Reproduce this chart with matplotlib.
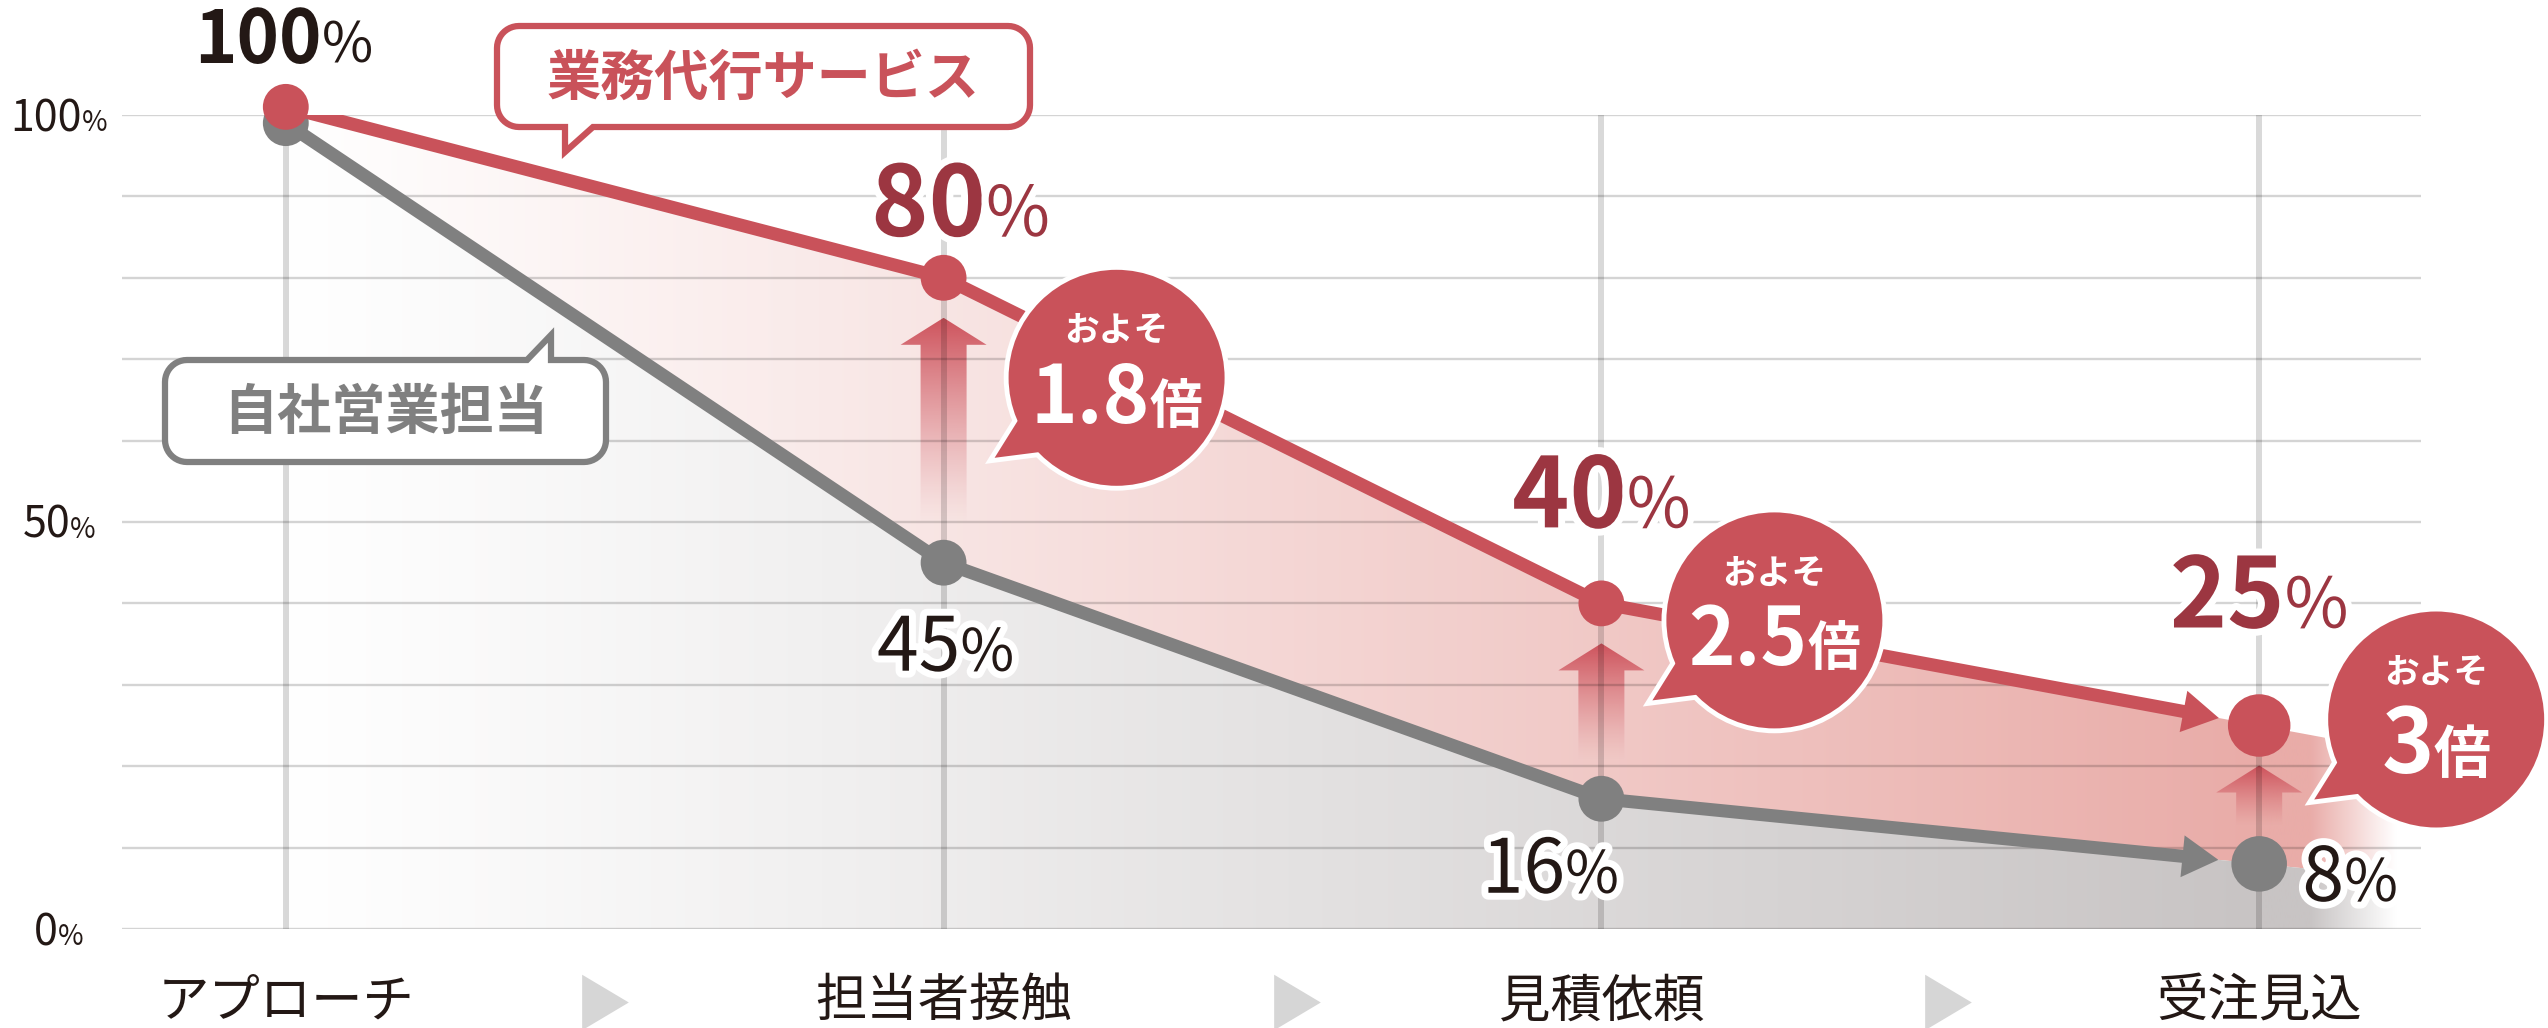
import numpy as np
import matplotlib.pyplot as plt
import matplotlib.transforms as mtransforms
import matplotlib.patheffects as pe
from matplotlib.patches import Polygon, Circle

plt.rcParams['font.family'] = ['Noto Sans CJK JP', 'DejaVu Sans']

# ---- data ----
stages = ['アプローチ', '担当者接触', '見積依頼', '受注見込']
service = [101, 80, 40, 25]        # 業務代行サービス (first dot sits a hair above 100)
inhouse = [99, 45, 16, 8]          # 自社営業担当
service_labels = ['100', '80', '40', '25']
inhouse_labels = ['', '45', '16', '8']
ratio_labels = ['', '1.8', '2.5', '3']
ytick_vals = [0, 50, 100]

# ---- style ----
RED = '#c9525a'
DARK_RED = '#9c3641'
GRAY = '#808080'
INK = '#231815'
PINK_END = (233 / 255, 172 / 255, 168 / 255)
GRAY_END = (200 / 255, 196 / 255, 196 / 255)

W, H = 2548, 1028
ID = mtransforms.IdentityTransform()

fig = plt.figure(figsize=(W / 100, H / 100), dpi=100)
ax = fig.add_axes([122 / W, 1 - 929 / H, (2421 - 122) / W, (929 - 115) / H])
x0, x1 = -0.249, 3.246
ax.set_xlim(x0, x1)
ax.set_ylim(0, 100)
ax.set_autoscale_on(False)
for s in ax.spines.values():
    s.set_visible(False)
ax.set_xticks(range(len(stages)), stages, fontsize=37, color=INK)
ax.set_yticks(np.arange(0, 101, 10))
ax.tick_params(length=0, labelleft=False)
ax.tick_params(axis='x', pad=33)
ax.set_axisbelow(False)
ax.yaxis.grid(True, color='k', alpha=0.17, lw=1.7)
ax.xaxis.grid(True, color='k', alpha=0.15, lw=4.3)

renderer = fig.canvas.get_renderer()
xs = np.arange(len(stages))


def to_px(x, y):
    return ax.transData.transform((x, y))


def to_data(px, py):
    return ax.transData.inverted().transform((px, py))


# ---- gradient area fills ----
slope_s = service[-1] - service[-2]
slope_g = inhouse[-1] - inhouse[-2]
s_end = service[-1] + slope_s * (x1 - xs[-1])
g_end = inhouse[-1] + slope_g * (x1 - xs[-1])
top_edge = list(zip(xs, service)) + [(x1, s_end)]
mid_edge = list(zip(xs, inhouse)) + [(x1, g_end)]


def hgrad_fill(poly, end_rgb):
    n = 800
    gx = np.linspace(x0, x1, n)
    t = np.clip(gx / 3.0, 0, 1) ** 1.05
    fade = np.clip((3.21 - gx) / 0.13, 0, 1)
    a = t * fade
    img = np.ones((1, n, 4))
    img[0, :, :3] = 1 - a[:, None] * (1 - np.array(end_rgb))
    im = ax.imshow(img, extent=(x0, x1, 0, 100), aspect='auto', zorder=1,
                   interpolation='bilinear')
    clip = Polygon(poly, closed=True, transform=ax.transData)
    im.set_clip_path(clip)


hgrad_fill(top_edge + mid_edge[::-1], PINK_END)
hgrad_fill(mid_edge + [(x1, 0), (0, 0)], GRAY_END)


# ---- up arrows between the two series ----
def up_arrow(i):
    tx, ty = to_px(i, service[i])
    ty -= 40
    _, by = to_px(i, inhouse[i])
    by += 38
    hw, sw, hl = 43, 23, 27
    poly = [(tx, ty), (tx + hw, ty - hl), (tx + sw, ty - hl), (tx + sw, by),
            (tx - sw, by), (tx - sw, ty - hl), (tx - hw, ty - hl)]
    n = 200
    t = np.linspace(0, 1, n)
    img = np.zeros((n, 1, 4))
    img[:, 0, :3] = np.array([0.80, 0.30, 0.34])
    img[:, 0, 3] = np.clip(t, 0, 1) ** 1.3 * 0.95
    dl = to_data(tx - hw - 2, by)
    du = to_data(tx + hw + 2, ty)
    im = ax.imshow(img, extent=(dl[0], du[0], dl[1], du[1]), origin='lower',
                   aspect='auto', zorder=2, interpolation='bilinear')
    im.set_clip_path(Polygon(poly, closed=True, transform=ID))


for i in range(1, len(stages)):
    up_arrow(i)


# ---- lines with arrowheads on the last segment ----
def series_line(vals, color, z):
    p2 = to_px(xs[-2], vals[-2])
    p3 = to_px(xs[-1], vals[-1])
    u = (p3 - p2) / np.hypot(*(p3 - p2))
    nrm = np.array([-u[1], u[0]])
    tip = p3 - u * 41
    base = tip - u * 36
    bd = to_data(*(base + u * 2))
    ax.plot(list(xs[:-1]) + [bd[0]], list(vals[:-1]) + [bd[1]], color=color,
            lw=9.4, solid_joinstyle='round', solid_capstyle='butt', zorder=z)
    head = [tip, base + nrm * 21, base - nrm * 21]
    ax.add_patch(Polygon(head, closed=True, transform=ID, fc=color, ec='none', zorder=z))


series_line(inhouse, GRAY, 3)
ax.scatter(xs, inhouse, s=np.array([33, 33, 33, 40]) ** 2, color=GRAY, zorder=4,
           linewidths=0, clip_on=False)
series_line(service, RED, 5)
ax.scatter(xs, service, s=np.array([33, 33, 33, 45]) ** 2, color=RED, zorder=6,
           linewidths=0, clip_on=False)


# ---- mixed-size text helper (number + smaller %) ----
def mixed_text(px, py, parts, ha='center', z=8):
    texts = [fig.text(0, 0, s, transform=ID, va='baseline', ha='left', zorder=z, **p)
             for s, p in parts]
    widths = [t.get_window_extent(renderer).width for t in texts]
    total = sum(widths)
    start = {'center': px - total / 2, 'left': px, 'right': px - total}[ha]
    for t, w in zip(texts, widths):
        t.set_position((start, py))
        start += w
    return texts


# y tick labels
for v in ytick_vals:
    _, gy = to_px(0, v)
    mixed_text(59, gy - 16, [(str(v), dict(fontsize=31, color=INK)),
                              ('%', dict(fontsize=20, color=INK))])

# value labels
halo = [pe.withStroke(linewidth=10, foreground='white')]
service_off = [(-2, 44), (17, 42), (0, 76), (0, 98)]
inhouse_off = [None, (2, -108), (-51, -94), (91, -37)]

for i, lab in enumerate(service_labels):
    px, py = to_px(i, service[i])
    dx, dy = service_off[i]
    if i == 0:
        parts = [(lab, dict(fontsize=52, color=INK, fontweight='bold')),
                 ('%', dict(fontsize=40, color=INK))]
    else:
        parts = [(lab, dict(fontsize=70, color=DARK_RED, fontweight='bold', path_effects=halo)),
                 ('%', dict(fontsize=50, color=DARK_RED, path_effects=halo))]
    mixed_text(px + dx, py + dy, parts)

for i, lab in enumerate(inhouse_labels):
    if not lab:
        continue
    px, py = to_px(i, inhouse[i])
    dx, dy = inhouse_off[i]
    parts = [(lab, dict(fontsize=54, color=INK, path_effects=halo)),
             ('%', dict(fontsize=42, color=INK, path_effects=halo))]
    mixed_text(px + dx, py + dy, parts)

# ---- ratio bubbles ----
bubble_off = [None, (173, -100), (173, -17), (177, 6)]
num_sizes = [0, 57, 57, 64]
bai_sizes = [0, 38, 38, 41]
R = 108
for i, lab in enumerate(ratio_labels):
    if not lab:
        continue
    px, py = to_px(i, service[i])
    cx, cy = px + bubble_off[i][0], py + bubble_off[i][1]
    tail = [(cx - 97, cy - 40), (cx - 122, cy - 80), (cx - 75, cy - 74)]
    ax.add_patch(Circle((cx, cy), R, transform=ID, fc='white', ec='white', lw=7,
                        zorder=7, clip_on=False))
    ax.add_patch(Polygon(tail, closed=True, transform=ID, fc='white', ec='white', lw=7,
                         joinstyle='miter', zorder=7, clip_on=False))
    ax.add_patch(Circle((cx, cy), R, transform=ID, fc=RED, ec='none', zorder=7.1,
                        clip_on=False))
    ax.add_patch(Polygon(tail, closed=True, transform=ID, fc=RED, ec='none',
                         zorder=7.1, clip_on=False))
    fig.text(cx, cy + 47, 'およそ', transform=ID, ha='center', va='center',
             fontsize=25, fontweight='bold', color='white', zorder=9)
    mixed_text(cx, cy - 45 - (8 if i == 3 else 0),
               [(lab, dict(fontsize=num_sizes[i], fontweight='bold', color='white')),
                ('倍', dict(fontsize=bai_sizes[i], fontweight='bold', color='white'))], z=9)


# ---- series callouts ----
def callout_pts(bx0, by0, bx1, by1, r, bottom_tail=None, top_tail=None, n=12):
    pts = []

    def arc(cx, cy, a0, a1):
        for a in np.linspace(a0, a1, n):
            pts.append((cx + r * np.cos(a), cy + r * np.sin(a)))

    arc(bx0 + r, by0 + r, np.pi, 1.5 * np.pi)
    if bottom_tail:
        pts.extend(bottom_tail)
    arc(bx1 - r, by0 + r, 1.5 * np.pi, 2 * np.pi)
    arc(bx1 - r, by1 - r, 0, 0.5 * np.pi)
    if top_tail:
        pts.extend(top_tail)
    arc(bx0 + r, by1 - r, 0.5 * np.pi, np.pi)
    return pts


red_box = callout_pts(497, H - 127, 1030, H - 26, 22,
                      bottom_tail=[(565, H - 127), (565, H - 152), (593, H - 127)])
ax.add_patch(Polygon(red_box, closed=True, transform=ID, fc='white', ec=RED, lw=4.5,
                     joinstyle='miter', zorder=7, clip_on=False))
fig.text(763, H - 79, '業務代行サービス', transform=ID, ha='center', va='center',
         fontsize=39, fontweight='bold', color=RED, zorder=9)

gray_box = callout_pts(165, H - 462, 606, H - 360, 22,
                       top_tail=[(551, H - 360), (551, H - 335), (527, H - 360)])
ax.add_patch(Polygon(gray_box, closed=True, transform=ID, fc='white', ec=GRAY, lw=4.5,
                     joinstyle='miter', zorder=7, clip_on=False))
fig.text(386, H - 413, '自社営業担当', transform=ID, ha='center', va='center',
         fontsize=39, fontweight='bold', color=GRAY, zorder=9)

# ---- step triangles between stage names ----
step_x = [0.486, 1.538, 2.527]
tri = [(-0.42, -0.5), (0.42, 0.0), (-0.42, 0.5), (-0.42, -0.5)]
ax.scatter(step_x, [-(1002 - 929) / 814] * len(step_x), marker=tri, s=40 ** 2,
           color='#d6d6d6', linewidths=0, transform=ax.get_xaxis_transform(),
           clip_on=False, zorder=3)

fig.savefig('out.png', dpi=100)
